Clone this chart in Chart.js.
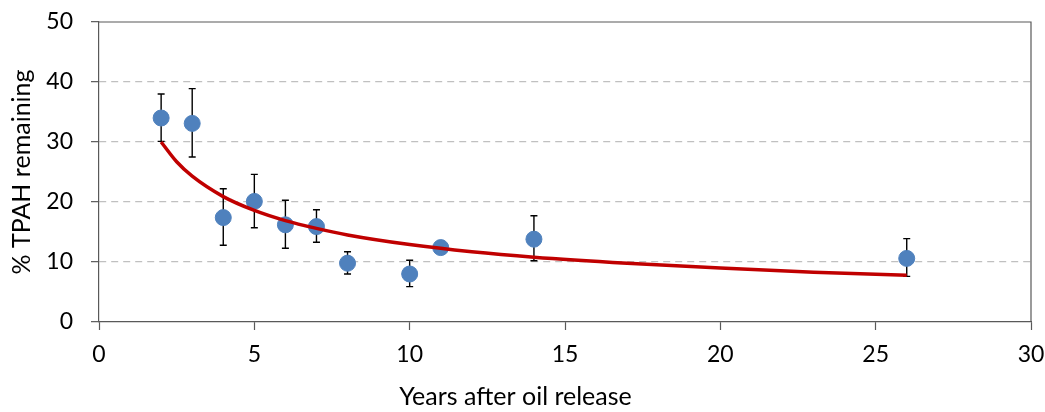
<!DOCTYPE html>
<html>
<head>
<meta charset="utf-8">
<title>TPAH remaining after oil release</title>
<script src="https://cdn.jsdelivr.net/npm/chart.js@4/dist/chart.umd.min.js"></script>
<style>
  html, body { margin: 0; padding: 0; background: #ffffff; }
  #wrap { width: 1045px; height: 412px; }
</style>
</head>
<body>
<div id="wrap"><canvas id="chart" width="1045" height="412"></canvas></div>
<script>
// Measured TPAH fraction by years since the release
const years     = [2, 3, 4, 5, 6, 7, 8, 10, 11, 14, 26];
const tpahMean  = [34.0, 33.1, 17.4, 20.1, 16.2, 15.9, 9.8, 8.0, 12.4, 13.8, 10.6];
const tpahLow   = [30.1, 27.5, 12.8, 15.7, 12.3, 13.3, 8.0, 5.9, 11.6, 10.2, 7.6];
const tpahHigh  = [38.0, 38.9, 22.2, 24.6, 20.3, 18.7, 11.7, 10.3, 13.2, 17.7, 13.9];

// Fitted decline curve, sampled along its length
const fitYears  = [2, 2.5, 3, 4, 5, 6, 7, 8, 10, 12, 14, 17, 20, 23, 26];
const fitValues = [30.0, 26.7, 24.3, 20.9, 18.6, 16.9, 15.6, 14.5, 12.9, 11.7, 10.8, 9.8, 9.0, 8.3, 7.8];

// Axis ticks
const xTicks = [0, 5, 10, 15, 20, 25, 30];
const yTicks = [0, 10, 20, 30, 40, 50];

const FONT = 'Lato, "Open Sans", "Liberation Sans", sans-serif';
const AXIS_COLOR = '#595959';

const points = years.map((x, i) => ({ x: x, y: tpahMean[i] }));
const fit = fitYears.map((x, i) => ({ x: x, y: fitValues[i] }));

// Vertical error bars with caps, drawn beneath the markers
const errorBars = {
  id: 'errorBars',
  beforeDatasetsDraw(chart) {
    const { ctx, scales: { x, y } } = chart;
    const cap = 3.5;
    ctx.save();
    ctx.strokeStyle = '#000000';
    ctx.lineWidth = 1.4;
    years.forEach((yr, i) => {
      const px = x.getPixelForValue(yr);
      const top = y.getPixelForValue(tpahHigh[i]);
      const bot = y.getPixelForValue(tpahLow[i]);
      ctx.beginPath();
      ctx.moveTo(px, top); ctx.lineTo(px, bot);
      ctx.moveTo(px - cap, top); ctx.lineTo(px + cap, top);
      ctx.moveTo(px - cap, bot); ctx.lineTo(px + cap, bot);
      ctx.stroke();
    });
    ctx.restore();
  }
};

// Closed frame around the plot area
const frame = {
  id: 'frame',
  afterDraw(chart) {
    const { ctx, chartArea: a } = chart;
    ctx.save();
    ctx.strokeStyle = AXIS_COLOR;
    ctx.lineWidth = 1.2;
    ctx.beginPath();
    ctx.moveTo(a.left, a.top); ctx.lineTo(a.right, a.top); ctx.lineTo(a.right, a.bottom);
    ctx.stroke();
    ctx.restore();
  }
};

// Keep the plot area fixed regardless of tick label overhang
function noOverhang(scale) {
  scale.paddingLeft = 0;
  scale.paddingRight = 0;
  scale.paddingTop = 0;
  scale.paddingBottom = 0;
}

new Chart(document.getElementById('chart'), {
  type: 'scatter',
  data: {
    datasets: [
      {
        label: 'Fit',
        type: 'line',
        data: fit,
        borderColor: '#C00000',
        borderWidth: 3.5,
        pointRadius: 0,
        cubicInterpolationMode: 'monotone',
        fill: false,
        order: 0
      },
      {
        label: '% TPAH remaining',
        data: points,
        backgroundColor: '#4F81BD',
        borderColor: '#4F81BD',
        borderWidth: 1,
        pointRadius: 8,
        order: 1
      }
    ]
  },
  options: {
    responsive: false,
    animation: false,
    layout: { padding: { left: 0, right: 14, top: 22, bottom: 0 } },
    plugins: {
      legend: { display: false },
      tooltip: { enabled: false },
      title: {
        display: true,
        position: 'bottom',
        text: 'Years after oil release',
        color: '#000000',
        font: { family: FONT, size: 25, weight: 'normal', lineHeight: 1.2 },
        padding: { top: 0, bottom: 0 }
      }
    },
    scales: {
      x: {
        type: 'linear',
        min: 0,
        max: 30,
        afterBuildTicks(scale) { scale.ticks = xTicks.map(v => ({ value: v })); },
        afterFit(scale) { scale.height = 60; noOverhang(scale); },
        ticks: { color: '#000000', font: { family: FONT, size: 23 }, padding: 11, maxRotation: 0 },
        grid: { drawOnChartArea: false, drawTicks: true, tickLength: 8, tickColor: AXIS_COLOR, tickWidth: 1.2 },
        border: { display: true, color: AXIS_COLOR, width: 1.2 }
      },
      y: {
        type: 'linear',
        min: 0,
        max: 50,
        afterBuildTicks(scale) { scale.ticks = yTicks.map(v => ({ value: v })); },
        afterFit(scale) { scale.width = 99; noOverhang(scale); },
        ticks: { color: '#000000', font: { family: FONT, size: 23 }, padding: 18 },
        grid: {
          drawTicks: true,
          tickLength: 8,
          tickColor: AXIS_COLOR,
          tickWidth: 1.2,
          lineWidth: 1.3,
          color: ctx => (ctx.tick && (ctx.tick.value === 0 || ctx.tick.value === 50)) ? 'rgba(0,0,0,0)' : '#C0C0C0'
        },
        border: { display: true, color: AXIS_COLOR, width: 1.2, dash: [7, 5] },
        title: {
          display: true,
          text: '% TPAH remaining',
          color: '#000000',
          font: { family: FONT, size: 25 },
          padding: { top: 7, bottom: 0 }
        }
      }
    }
  },
  plugins: [errorBars, frame]
});
</script>
</body>
</html>
